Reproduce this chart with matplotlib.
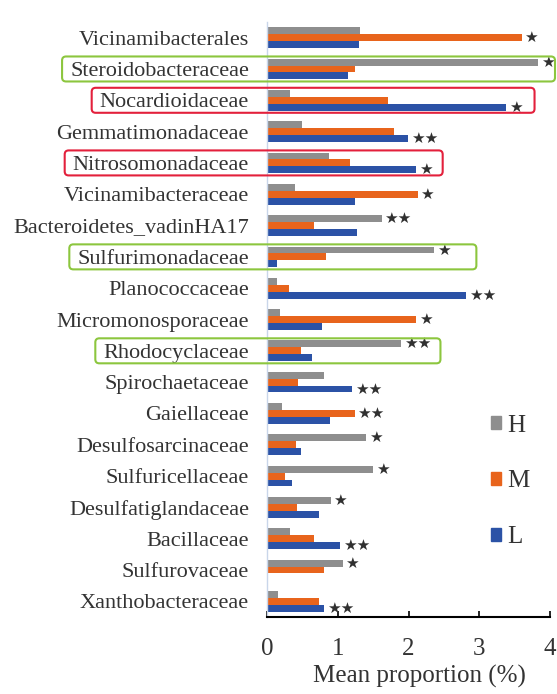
"Mean proportion of the discriminating bacterial families under H, M and L"

import matplotlib as mpl
import matplotlib.pyplot as plt
import numpy as np
from matplotlib.patches import FancyBboxPatch, Patch
from matplotlib.transforms import IdentityTransform

####
# Data
#####

families = [
    "Vicinamibacterales", "Steroidobacteraceae", "Nocardioidaceae",
    "Gemmatimonadaceae", "Nitrosomonadaceae", "Vicinamibacteraceae",
    "Bacteroidetes_vadinHA17", "Sulfurimonadaceae", "Planococcaceae",
    "Micromonosporaceae", "Rhodocyclaceae", "Spirochaetaceae", "Gaiellaceae",
    "Desulfosarcinaceae", "Sulfuricellaceae", "Desulfatiglandaceae",
    "Bacillaceae", "Sulfurovaceae", "Xanthobacteraceae",
]
high = [1.32, 3.83, 0.33, 0.49, 0.87, 0.40, 1.62, 2.36, 0.14, 0.19,
        1.90, 0.81, 0.21, 1.40, 1.50, 0.90, 0.32, 1.07, 0.16]
medium = [3.60, 1.24, 1.71, 1.80, 1.18, 2.13, 0.66, 0.83, 0.31, 2.11,
          0.48, 0.44, 1.24, 0.41, 0.25, 0.43, 0.67, 0.81, 0.74]
low = [1.30, 1.14, 3.38, 1.99, 2.11, 1.24, 1.27, 0.14, 2.81, 0.78,
       0.63, 1.20, 0.89, 0.48, 0.36, 0.73, 1.03, 0.00, 0.81]
signif = ["*", "*", "*", "**", "*", "*", "**", "*", "**", "*",
          "**", "**", "**", "*", "*", "*", "**", "*", "**"]
xticks = [0, 1, 2, 3, 4]

# Highlighted families: (name, edge colour, extra room past the stars in px)
highlights = [
    ("Steroidobacteraceae", "#8cc63e", 1),
    ("Nocardioidaceae", "#e3203c", 12),
    ("Nitrosomonadaceae", "#e3203c", 10),
    ("Sulfurimonadaceae", "#8cc63e", 26),
    ("Rhodocyclaceae", "#8cc63e", 9),
]

COLORS = {"H": "#8e8e8e", "M": "#e8641c", "L": "#2b52a6"}
TEXT = "#333333"
SERIF = "Liberation Serif"

####
# Plot
#####

W, H = 557, 694
fig = plt.figure(figsize=(W / 100, H / 100), dpi=100)
ax = fig.add_axes([267 / W, 77 / H, 283 / W, 595 / H])

y = np.arange(len(families))
bh = 0.22
ax.barh(y - bh, high, height=bh, color=COLORS["H"], label="H")
ax.barh(y, medium, height=bh, color=COLORS["M"], label="M")
ax.barh(y + bh, low, height=bh, color=COLORS["L"], label="L")

# Significance stars beside the longest bar of each family
stars = []
for i, (h, m, l, s) in enumerate(zip(high, medium, low, signif)):
    vals = [h, m, l]
    k = int(np.argmax(vals))
    t = ax.annotate("\u2605" * len(s), (vals[k], i + (k - 1) * bh),
                    xytext=(2, 0), textcoords="offset points",
                    ha="left", va="center", fontsize=11, color="#303030",
                    family="DejaVu Sans", annotation_clip=False)
    stars.append(t)

ax.set_xlim(0, 4)
ax.set_ylim(len(families) - 0.5, -0.5)
ax.set_xticks(xticks)
ax.set_xticklabels([str(v) for v in xticks], family=SERIF, fontsize=18, color=TEXT)
ax.set_yticks(y)
ax.set_yticklabels(families, family=SERIF, fontsize=16, color=TEXT)
ax.tick_params(axis="y", length=0, pad=13)
ax.tick_params(axis="x", direction="in", length=4, width=1.2, pad=15)
ax.set_xlabel("Mean proportion (%)", family=SERIF, fontsize=18, color=TEXT, labelpad=0)
ax.xaxis.set_label_coords((419 - 267) / 283, -0.081)

for side in ["top", "right"]:
    ax.spines[side].set_visible(False)
ax.spines["left"].set_color("#c9d6ea")
ax.spines["left"].set_linewidth(1.0)
ax.spines["bottom"].set_linewidth(1.5)

handles = [Patch(color=COLORS[k]) for k in ["H", "M", "L"]]
fig.legend(handles, ["H", "M", "L"], loc="upper left",
           bbox_to_anchor=(468 / W, 1 - 392 / H), frameon=False,
           prop={"family": SERIF, "size": 18}, labelcolor=TEXT,
           handlelength=0.42, handleheight=0.42, handletextpad=0.25,
           labelspacing=1.35)

# Rounded boxes around the highlighted families
fig.canvas.draw()
renderer = fig.canvas.get_renderer()
labels = {t.get_text(): t for t in ax.get_yticklabels()}
for name, color, extra in highlights:
    i = families.index(name)
    lab = labels[name].get_window_extent(renderer)
    star = stars[i].get_window_extent(renderer)
    yc = ax.transData.transform((0, i))[1]
    x0 = lab.x0 - 8
    x1 = min(star.x1 + extra, W - 2)
    box = FancyBboxPatch((x0, yc - 12.5), x1 - x0, 25,
                         boxstyle="round,pad=0,rounding_size=4",
                         transform=IdentityTransform(), fill=False,
                         edgecolor=color, linewidth=1.5)
    fig.add_artist(box)

plt.savefig("out.png", dpi=100)
